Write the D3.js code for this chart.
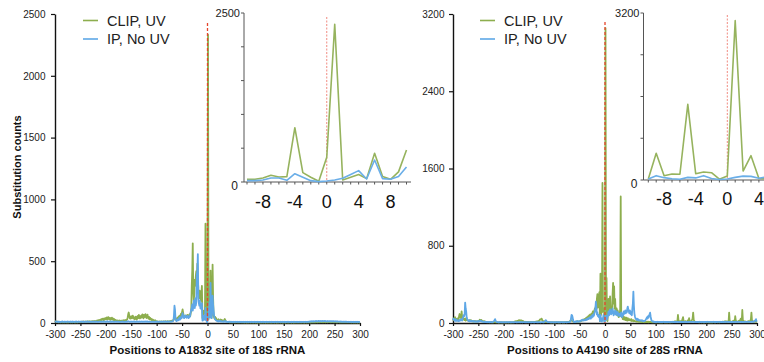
<!DOCTYPE html>
<html><head><meta charset="utf-8">
<script src="https://cdn.jsdelivr.net/npm/d3@7"></script>
<style>
body{margin:0;background:#fff}
svg{display:block;font-family:Arial,"Liberation Sans",Helvetica,sans-serif}
</style>
</head><body>
<svg id="chart" width="764" height="362"></svg>
<script>
// ---------- categories / tick labels ----------
const positions = d3.range(-300, 301);              // nucleotide offsets
const xTicks = [-300,-250,-200,-150,-100,-50,0,50,100,150,200,250,300];
const leftYTicks = [0,500,1000,1500,2000,2500];
const rightYTicks = [0,800,1600,2400,3200];
const insetXLabels = [-8,-4,0,4,8];
const leftInsetYTicks = [0,500,1000,1500,2000,2500];
const rightInsetYTicks = [0,800,1600,2400,3200];
const seriesNames = ["CLIP, UV","IP, No UV"];

// ---------- series values (positions -300..300) ----------
const leftClip = [
18,14,10,8,12,9,7,6,8,10, 6,5,7,9,6,5,8,6,5,7, 6,8,5,7,6,9,5,6,8,7, 5,7,6,8,5,6,7,9,6,5,
7,6,8,5,9,6,7,10,8,6, 9,7,11,8,10,12,9,11,8,10, 12,10,9,13,11,8,12,14,10,9, 11,13,10,15,12,14,11,16,13,12,
15,18,14,20,16,22,19,25,21,18, 28,24,32,26,35,30,22,38,27,33, 40,31,45,28,36,48,33,30,42,25, 38,29,44,32,26,35,22,30,18,24,
20,16,22,18,14,19,15,21,17,13, 18,15,20,14,17,22,16,19,24,18, 21,26,30,45,70,85,62,40,35,48, 55,38,42,60,50,35,45,30,40,52,
36,28,44,58,40,65,48,38,55,42, 62,45,70,50,38,66,48,58,72,46, 40,55,68,44,36,50,30,42,28,35, 24,30,22,26,18,20,15,22,16,12,
14,10,12,8,11,9,13,10,8,12, 9,11,8,13,10,12,9,14,11,10, 13,10,15,12,9,14,11,16,12,18, 15,20,18,25,30,50,45,38,30,25,
35,42,30,48,55,40,62,50,75,60, 90,110,85,60,52,45,58,48,62,55, 50,65,58,45,60,72,55,80,95,300, 420,645,260,180,240,350,300,380,420,320,
480,350,280,240,200,260,220,180,240,300, 40,40,60,100,75,80,803,138,70,10,
365,2333,30,70,110,50,424,80,40,150, 473,210,60,45,35,50,28,40,30,22, 25,18,30,22,15,20,28,18,24,16, 20,14,18,25,32,22,15,12,10,8,
9,7,8,6,7,5,8,6,7,5, 6,8,5,7,6,5,7,6,8,5, 6,5,7,5,6,8,5,6,5,7, 5,6,4,7,5,6,5,4,6,5,
4,6,5,5,7,4,6,5,4,6, 5,4,6,5,4,5,6,4,5,4, 5,6,4,5,4,6,5,4,5,6, 4,5,6,4,5,4,5,6,4,5,
5,4,5,6,4,5,4,6,5,4, 6,5,4,5,6,4,5,4,5,6, 4,5,6,5,4,5,6,4,5,4, 5,6,4,5,4,6,5,4,6,5,
4,5,5,6,4,5,4,6,5,4, 5,4,6,5,4,5,6,5,4,5, 6,5,4,5,6,4,5,6,4,5, 5,4,5,6,5,4,6,5,4,6,
5,6,5,4,6,5,7,6,5,6, 6,7,5,6,8,6,5,7,6,8, 7,6,8,6,7,9,6,8,7,6, 8,7,6,9,7,8,6,7,9,7,
7,8,6,7,9,6,8,7,6,8, 6,7,8,6,7,5,6,8,7,6, 5,6,7,5,6,5,7,6,5,6, 6,5,6,7,5,6,5,6,7,5,
5,6,5,4,6,5,6,5,4,5, 6,5,4,6,5,4,5,6,5,4,5];

const leftIp = [
14,12,10,11,9,10,12,8,9,10, 9,8,10,11,9,12,10,8,9,11, 10,9,11,8,10,12,9,10,8,11, 9,11,10,8,12,9,10,11,9,8,
10,12,9,11,8,10,9,12,10,9, 11,9,10,12,9,8,11,10,9,12, 10,8,11,9,12,10,9,11,8,10, 9,11,10,8,10,12,9,10,11,9,
10,9,12,10,8,11,10,9,12,10, 11,10,9,12,10,9,11,13,10,9, 10,12,9,11,13,10,9,12,10,11, 9,11,10,12,9,10,11,9,10,12,
10,9,11,10,12,9,10,8,11,10, 9,10,12,9,11,10,8,10,9,11, 10,11,9,12,14,12,10,9,11,10, 12,10,9,11,10,12,9,11,10,9,
11,9,12,10,9,11,10,12,9,10, 12,10,11,9,10,12,11,9,12,10, 10,12,9,11,10,9,11,10,9,10, 9,10,11,9,10,8,10,9,11,10,
10,9,11,10,8,10,9,11,10,9, 11,10,9,12,10,9,11,10,12,10, 9,11,10,12,9,10,12,11,10,12, 10,12,15,20,60,140,110,40,20,15,
18,25,30,22,35,45,28,40,50,38, 60,80,55,45,40,50,62,48,55,42, 45,58,50,40,55,48,65,90,110,120, 150,100,130,180,160,120,200,140,170,390,
420,558,200,160,140,180,120,150,110,160, 20,20,30,60,60,25,123,70,20,5,
15,30,55,110,168,45,325,50,40,80, 222,150,100,60,40,30,25,20,18,15, 14,18,12,16,20,14,11,15,12,10, 12,9,14,11,16,10,12,9,11,8,
9,10,8,11,9,10,8,9,10,8, 9,8,10,9,8,10,9,8,9,10, 8,9,10,8,9,8,10,9,8,9, 10,8,9,8,10,9,8,9,10,8,
9,8,10,9,8,9,8,10,9,8, 8,9,8,10,9,8,9,8,9,10, 9,8,9,8,10,9,8,9,10,8, 8,10,9,8,9,8,10,9,8,9,
9,8,10,9,8,9,10,8,9,8, 8,9,8,10,9,8,9,8,10,9, 9,8,9,8,10,9,8,10,9,8, 8,9,10,8,9,8,9,10,8,9,
10,8,9,8,9,10,8,9,8,10, 9,8,10,9,8,9,10,8,9,8, 8,10,9,8,10,9,8,9,10,9, 9,8,9,10,8,9,10,9,8,10,
10,12,11,13,12,14,11,13,12,15, 13,12,14,16,13,15,12,14,16,13, 15,13,16,14,12,15,17,14,13,16, 14,16,13,15,14,12,16,15,13,14,
15,13,14,16,12,14,13,15,12,14, 13,12,14,12,13,11,13,12,11,12, 11,10,12,10,11,9,10,11,9,10, 10,9,11,9,10,8,9,10,9,8,
9,10,8,9,10,8,9,8,10,9, 8,9,10,8,9,8,10,9,8,9,10];

const rightClip = [
25,40,30,55,60,35,45,40,25,30, 50,35,70,93,60,80,45,120,70,40, 55,35,45,30,40,25,50,35,30,28, 25,20,28,18,22,30,20,25,18,15,
20,15,18,22,16,20,15,18,14,20, 18,22,28,35,30,25,32,20,18,22, 15,12,18,10,14,12,9,11,8,10, 8,10,7,9,8,11,7,9,6,8,
7,9,8,10,7,8,9,6,8,7, 6,8,7,9,6,8,7,6,8,5, 7,6,8,5,7,6,9,7,6,8, 6,8,7,9,6,7,8,6,9,7,
10,12,15,18,14,20,16,22,18,25, 28,22,30,25,20,27,24,18,22,15, 12,10,14,9,11,8,12,10,9,11, 8,10,9,12,8,11,9,10,12,8,
10,12,9,14,11,16,13,18,20,15, 22,30,38,35,42,45,30,25,20,15, 12,18,15,10,12,9,11,8,10,9, 8,10,7,9,8,6,9,7,8,6,
7,9,6,8,7,10,8,6,9,7, 8,6,9,7,10,8,7,9,6,8, 9,7,10,8,12,9,11,8,10,12, 15,20,25,30,28,22,18,15,12,10,
12,10,14,11,16,13,18,15,12,14, 16,20,18,25,22,30,28,35,30,40, 35,45,40,55,48,60,52,70,65,80, 75,90,85,70,100,95,120,110,90,130,
150,120,180,140,250,300,160,200,280,320, 19,511,83,115,110,1450,120,153,140,15,
77,3053,172,466,30,20,150,250,100,180, 275,120,140,100,130,300,415,200,380,150, 250,120,90,150,80,130,100,60,110,70, 150,1310,100,60,90,40,70,50,35,60,
45,30,55,40,25,50,35,28,40,30, 35,25,40,20,30,22,28,18,25,20, 18,15,20,12,16,14,18,10,15,12, 14,10,12,15,9,11,13,10,12,8,
10,12,9,14,11,8,13,10,12,9, 11,8,10,7,9,12,8,10,7,9, 8,6,9,7,8,10,7,6,8,9, 7,8,6,9,7,8,10,7,6,8,
9,7,8,6,10,8,7,9,8,6, 8,10,7,9,12,10,14,12,16,18, 12,15,20,25,83,30,15,12,18,20, 15,20,25,40,60,25,15,12,18,20,
15,12,18,22,30,25,50,20,15,12, 18,25,35,50,107,40,20,15,12,10, 12,10,9,11,8,10,7,9,8,10, 9,7,10,8,6,9,8,7,10,8,
7,9,8,10,7,8,6,9,8,7, 8,6,9,7,10,8,7,9,6,8, 9,8,7,10,8,9,7,11,9,10, 12,10,14,11,13,15,12,16,14,18,
10,12,15,20,18,107,30,15,12,10, 12,15,20,18,25,15,12,70,30,15, 12,10,15,20,18,25,15,30,45,20, 25,135,40,20,15,12,18,15,12,10,
12,15,10,20,15,18,12,25,40,107, 30,20,15,12,18,15,12,20,15,12,10];

const rightIp = [
30,45,35,25,40,30,20,35,28,22, 25,20,30,22,35,28,40,30,25,45, 60,80,70,90,211,150,120,60,40,30, 25,20,30,18,22,25,15,20,18,22,
15,20,12,18,14,16,12,15,18,13, 20,15,18,22,25,18,15,20,16,12, 12,10,14,11,9,12,10,8,11,9, 10,8,12,9,11,7,10,9,8,11,
15,20,30,40,25,18,12,10,9,8, 8,7,9,8,10,7,9,8,7,9, 8,9,7,10,8,7,9,8,10,7, 9,8,10,7,9,8,7,10,8,9,
7,9,8,10,8,7,9,8,7,10, 8,10,7,9,8,10,9,7,8,9, 10,8,9,7,10,8,9,8,7,9, 8,9,10,8,7,9,8,10,9,8,
9,7,8,10,9,8,7,9,10,8, 8,10,9,7,8,9,10,8,9,7, 12,15,20,30,25,18,12,10,9,8, 9,8,10,7,9,8,10,9,7,8,
8,10,9,7,8,9,10,8,9,7, 9,8,7,10,9,8,9,7,10,8, 8,9,10,8,7,9,8,10,9,8, 10,12,20,50,83,80,60,30,15,10,
12,15,10,18,14,20,16,12,18,15, 20,18,25,22,30,28,35,25,30,28, 30,35,28,40,32,45,38,50,42,55, 50,60,45,70,55,80,65,90,75,100,
120,150,220,160,90,110,70,85,60,75, 19,83,45,25,15,50,40,83,30,10,
20,50,75,70,35,60,90,120,80,100, 140,110,90,130,100,150,120,80,110,95, 130,100,85,120,90,110,75,100,80,95, 70,90,110,85,60,100,80,120,95,110,
130,100,120,110,150,170,140,120,100,130, 120,90,110,80,150,200,325,180,100,70, 50,40,35,45,30,40,35,25,30,28, 25,30,22,28,20,25,18,22,20,25,
30,40,50,60,45,70,55,80,90,107, 70,40,25,20,15,18,12,15,10,12, 11,9,12,10,13,11,9,12,10,11, 10,12,9,11,10,13,11,9,12,10,
11,10,12,9,11,10,12,10,9,11, 12,10,11,13,10,12,11,9,12,10, 11,12,10,13,11,9,12,10,11,13, 10,12,11,9,12,10,13,11,10,12,
11,10,12,10,9,11,12,10,13,11, 12,11,10,12,11,13,10,12,11,10, 10,12,11,9,12,10,11,13,10,12, 11,10,12,11,10,12,9,11,10,12,
12,11,10,13,11,12,10,11,12,10, 11,12,10,11,13,10,12,11,10,12, 10,11,12,10,12,11,10,13,11,10, 12,10,11,12,10,11,13,10,12,11,
11,12,10,13,11,10,12,11,10,12, 10,11,12,10,11,12,10,13,11,10, 12,11,10,12,11,10,12,11,13,10, 11,10,12,11,10,12,11,10,12,11,
12,11,13,10,12,11,10,12,11,13, 12,14,13,15,12,18,25,30,40,20,15];

// ---------- drawing ----------
const GREEN = "#8dae4e", BLUE = "#5ea7e6";
const svg = d3.select("#chart");
const fmt = d => String(d);   // plain hyphen minus, as in the figure

const panels = [
  {clip:leftClip, ip:leftIp, yTicks:leftYTicks, yMax:2500, xr:[55,360], yr:[323,14],
   title:"Positions to A1832 site of 18S rRNA", legendX:83, redTop:23,
   inset:{xr:[247,406.5], yr:[182,13], axisX:244, axisEnd:411, yTicks:leftInsetYTicks, yMax:2500,
          labBase:208, redTop:17}},
  {clip:rightClip, ip:rightIp, yTicks:rightYTicks, yMax:3200, xr:[453,757], yr:[323,14],
   title:"Positions to A4190 site of 28S rRNA", legendX:480, redTop:22,
   inset:{xr:[648.3,806.3], yr:[180,13], axisX:643.5, axisEnd:764, yTicks:rightInsetYTicks, yMax:3200,
          labBase:205, redTop:15}}
];

panels.forEach((p, pi) => {
  const x = d3.scaleLinear().domain([-300,300]).range(p.xr);
  const y = d3.scaleLinear().domain([0,p.yMax]).range(p.yr);
  const g = svg.append("g");

  // axes
  const ya = g.append("g").attr("transform",`translate(${p.xr[0]},0)`)
    .call(d3.axisLeft(y).tickValues(p.yTicks).tickSize(4).tickSizeOuter(0).tickPadding(pi?4.5:5.5).tickFormat(fmt));
  const xa = g.append("g").attr("transform",`translate(0,${p.yr[0]})`)
    .call(d3.axisBottom(x).tickValues(xTicks).tickSize(3).tickSizeOuter(0).tickPadding(5).tickFormat(fmt));
  [ya, xa].forEach(a => {
    a.select(".domain").attr("stroke","#111").attr("stroke-width",1.4);
    a.selectAll(".tick line").attr("stroke","#111").attr("stroke-width",1.2);
    a.selectAll("text").attr("font-size",10).attr("fill","#222")
      .attr("font-family","Arial,'Liberation Sans',sans-serif");
  });

  // data
  const line = d3.line().x((d,i)=>x(positions[i])).y(d=>y(d));
  g.append("path").datum(p.clip).attr("d",line).attr("fill","none")
    .attr("stroke",GREEN).attr("stroke-width",1.8).attr("stroke-linejoin","round");
  g.append("path").datum(p.ip).attr("d",line).attr("fill","none")
    .attr("stroke",BLUE).attr("stroke-width",1.8).attr("stroke-linejoin","round");

  // red dashed reference at 0
  g.append("line").attr("x1",x(0)).attr("x2",x(0)).attr("y1",p.redTop).attr("y2",p.yr[0])
    .attr("stroke","#e5442c").attr("stroke-width",1.3).attr("stroke-dasharray","3,2");

  // x title
  g.append("text").attr("x",(p.xr[0]+p.xr[1])/2).attr("y",354).attr("text-anchor","middle")
    .attr("font-size",11.5).attr("font-weight","bold").attr("fill","#111").text(p.title);

  // legend
  const lg = g.append("g");
  [GREEN, BLUE].forEach((c,k) => {
    const ly = k ? 39 : 20.5;
    lg.append("line").attr("x1",p.legendX).attr("x2",p.legendX+15).attr("y1",ly).attr("y2",ly)
      .attr("stroke",c).attr("stroke-width",1.6);
    lg.append("text").attr("x",p.legendX+24).attr("y",ly+5.3).attr("font-size",14.5)
      .attr("fill","#222").text(seriesNames[k]);
  });

  // ---- inset ----
  const q = p.inset;
  const ix = d3.scaleLinear().domain([-10,10]).range(q.xr);
  const iy = d3.scaleLinear().domain([0,q.yMax]).range(q.yr);
  const ig = svg.append("g");
  const idx = positions.map((v,i)=>i).filter(i => positions[i] >= -10 && positions[i] <= 10);
  const insetPos = idx.map(i => positions[i]);

  // y axis
  ig.append("line").attr("x1",q.axisX).attr("x2",q.axisX).attr("y1",q.yr[1]).attr("y2",q.yr[0])
    .attr("stroke","#555").attr("stroke-width",1);
  q.yTicks.forEach(t => {
    ig.append("line").attr("x1",q.axisX-3).attr("x2",q.axisX).attr("y1",iy(t)).attr("y2",iy(t))
      .attr("stroke","#555").attr("stroke-width",1);
  });
  ig.append("text").attr("x",q.axisX-4).attr("y",iy(q.yMax)+4).attr("text-anchor","end")
    .attr("font-size",11).attr("fill","#222").text(q.yMax);
  ig.append("text").attr("x",q.axisX-6).attr("y",iy(0)+7.5).attr("text-anchor","end")
    .attr("font-size",12).attr("fill","#222").text("0");

  // x axis
  ig.append("line").attr("x1",q.axisX).attr("x2",q.axisEnd).attr("y1",q.yr[0]).attr("y2",q.yr[0])
    .attr("stroke","#555").attr("stroke-width",1);
  insetPos.forEach(t => {
    if (ix(t) <= 764) ig.append("line").attr("x1",ix(t)).attr("x2",ix(t)).attr("y1",q.yr[0]).attr("y2",q.yr[0]+2.5)
      .attr("stroke","#555").attr("stroke-width",1);
  });
  insetXLabels.forEach(t => {
    ig.append("text").attr("x",ix(t)).attr("y",q.labBase).attr("text-anchor","middle")
      .attr("font-size",18).attr("fill","#111").text(String(t));
  });

  // red dotted
  ig.append("line").attr("x1",ix(0)).attr("x2",ix(0)).attr("y1",q.redTop).attr("y2",q.yr[0])
    .attr("stroke","#f08a80").attr("stroke-width",1).attr("stroke-dasharray","2,1.5");

  const il = d3.line().x((d,k)=>ix(insetPos[k])).y(d=>iy(d));
  ig.append("path").datum(idx.map(i=>p.clip[i])).attr("d",il).attr("fill","none")
    .attr("stroke","#96b35e").attr("stroke-width",1.6).attr("stroke-linejoin","round");
  ig.append("path").datum(idx.map(i=>p.ip[i])).attr("d",il).attr("fill","none")
    .attr("stroke","#6aaee8").attr("stroke-width",1.6).attr("stroke-linejoin","round");
});

// y-axis title (left panel only)
svg.append("text").attr("transform","translate(21,167) rotate(-90)").attr("text-anchor","middle")
  .attr("font-size",11).attr("font-weight","bold").attr("fill","#111").text("Substitution counts");
</script>
</body></html>
